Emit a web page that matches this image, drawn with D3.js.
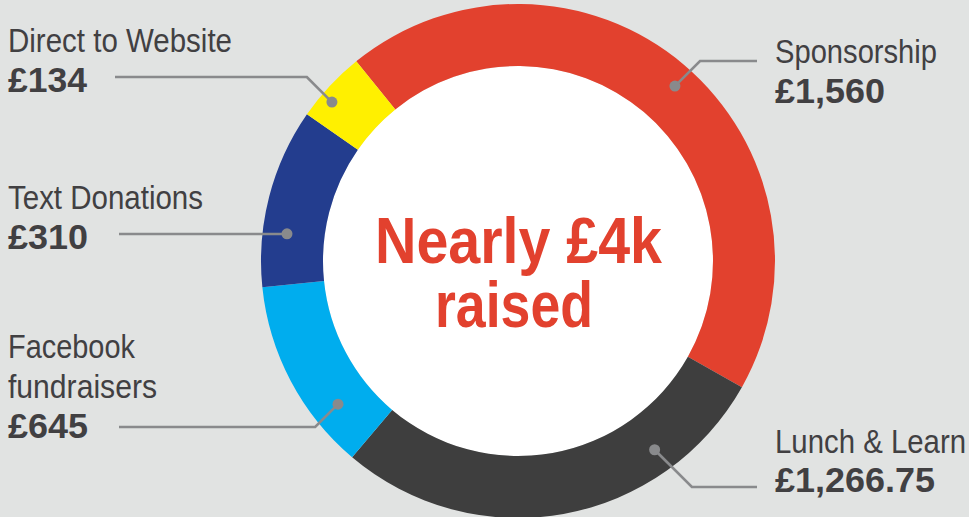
<!DOCTYPE html>
<html>
<head>
<meta charset="utf-8">
<script src="https://cdn.jsdelivr.net/npm/d3@7"></script>
<style>
  html, body { margin: 0; padding: 0; background: #e1e3e2; }
  svg { display: block; }
  text { font-family: "Liberation Sans", Arial, Helvetica, sans-serif; }
</style>
</head>
<body>
<div id="chart"></div>
<script>
// values
const categories = ["Sponsorship", "Lunch & Learn", "Facebook fundraisers", "Text Donations", "Direct to Website"];
const amounts = ["£1,560", "£1,266.75", "£645", "£310", "£134"];
// share of the ring as it is drawn (percent), clockwise from the red slice
const shares = [44.0, 28.0, 12.2, 11.3, 4.5];
const centreLines = ["Nearly £4k", "raised"];

const colors = ["#e2412e", "#3e3e3e", "#00adee", "#233d8e", "#fff000"];

// label layout: dot angle/radius, leader line y, line end x, text block
const labelLayout = [
    { angle: 41.9,  r: 235, lineY: 61,  lineX: 757, tx: 775, nameY: [63],       valueY: 103, nameW: [162],      valueW: 110 },
    { angle: 144.1, r: 233, lineY: 487, lineX: 757, tx: 775, nameY: [453],      valueY: 492, nameW: [191],      valueW: 160 },
    { angle: -128.5, r: 230, lineY: 427, lineX: 119, tx: 8,  nameY: [358, 398], valueY: 438, nameW: [127, 149], valueW: 80 },
    { angle: -83.3, r: 232.6, lineY: 234, lineX: 119, tx: 8, nameY: [209],      valueY: 249, nameW: [195],      valueW: 80 },
    { angle: -49.5, r: 244.7, lineY: 77, lineX: 115, tx: 8,  nameY: [52],       valueY: 92,  nameW: [224],      valueW: 79 }
];
const nameLines = [["Sponsorship"], ["Lunch & Learn"], ["Facebook", "fundraisers"], ["Text Donations"], ["Direct to Website"]];

const width = 969, height = 517;
const cx = 518, cy = 261;
const outerR = 257, innerR = 195;
const rad = Math.PI / 180;

const svg = d3.select('#chart').append('svg')
    .attr('width', width)
    .attr('height', height);

svg.append('rect').attr('width', width).attr('height', height).attr('fill', '#e1e3e2');

const g = svg.append('g').attr('transform', 'translate(' + cx + ',' + cy + ')');

const pie = d3.pie()
    .sort(null)
    .value(d => d)
    .startAngle(-39 * rad)
    .endAngle(321 * rad);

const arc = d3.arc().innerRadius(innerR).outerRadius(outerR);

g.append('circle').attr('r', innerR).attr('fill', '#ffffff');

g.selectAll('.slice')
    .data(pie(shares))
    .enter().append('path')
    .attr('class', 'slice')
    .attr('fill', (d, i) => colors[i])
    .attr('d', arc);

// centre title
g.selectAll('.title')
    .data(centreLines)
    .enter().append('text')
    .attr('class', 'title')
    .attr('x', (d, i) => i === 0 ? 0.5 : -4)
    .attr('y', (d, i) => i === 0 ? 2 : 66)
    .attr('text-anchor', 'middle')
    .attr('textLength', (d, i) => i === 0 ? 287 : 158)
    .attr('lengthAdjust', 'spacingAndGlyphs')
    .style('font-size', '65px')
    .style('font-weight', 'bold')
    .style('fill', '#e2412e')
    .text(d => d);

// leader lines and labels
const labels = svg.append('g');
labelLayout.forEach(function (l, i) {
    let dx = cx + l.r * Math.sin(l.angle * rad);
    let dy = cy - l.r * Math.cos(l.angle * rad);
    let dir = l.lineX > dx ? 1 : -1;
    let ex = dx + dir * Math.abs(dy - l.lineY);
    labels.append('polyline')
        .attr('points', [[dx, dy], [ex, l.lineY], [l.lineX, l.lineY]].map(p => p.join(',')).join(' '))
        .attr('fill', 'none')
        .attr('stroke', '#898a8c')
        .attr('stroke-width', 2.6);
    labels.append('circle')
        .attr('cx', dx).attr('cy', dy).attr('r', 5.5)
        .attr('fill', '#898a8c');

    nameLines[i].forEach(function (t, j) {
        labels.append('text')
            .attr('x', l.tx).attr('y', l.nameY[j])
            .attr('textLength', l.nameW[j])
            .attr('lengthAdjust', 'spacingAndGlyphs')
            .style('font-size', '34px')
            .style('fill', '#414042')
            .text(t);
    });
    labels.append('text')
        .attr('x', l.tx).attr('y', l.valueY)
        .attr('textLength', l.valueW)
        .attr('lengthAdjust', 'spacingAndGlyphs')
        .style('font-size', '35px')
        .style('font-weight', 'bold')
        .style('fill', '#414042')
        .text(amounts[i]);
});
</script>
</body>
</html>
